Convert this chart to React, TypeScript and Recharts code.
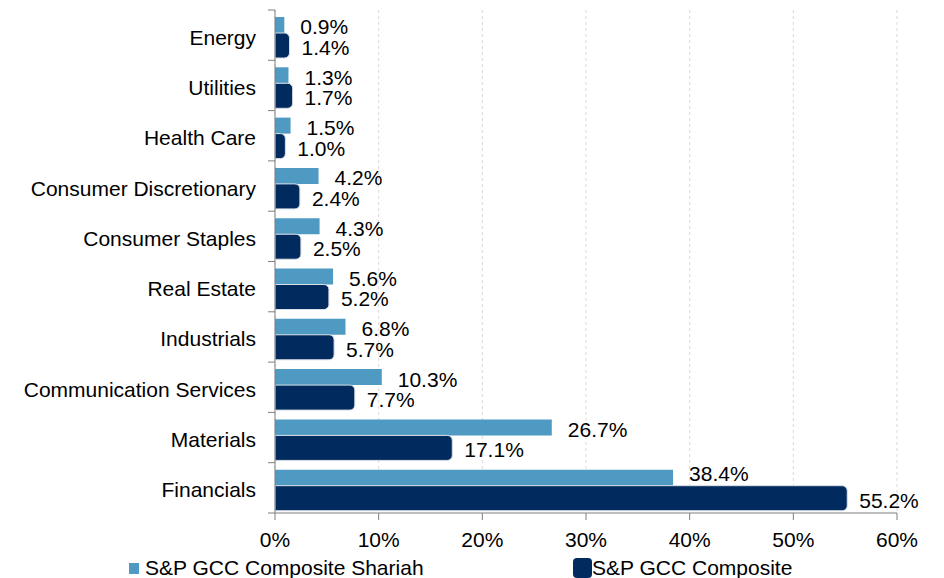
import React from 'react';
import { BarChart, Bar, XAxis, YAxis, CartesianGrid, LabelList } from 'recharts';

const categories = [
  'Energy',
  'Utilities',
  'Health Care',
  'Consumer Discretionary',
  'Consumer Staples',
  'Real Estate',
  'Industrials',
  'Communication Services',
  'Materials',
  'Financials',
];
const shariahValues = [0.9, 1.3, 1.5, 4.2, 4.3, 5.6, 6.8, 10.3, 26.7, 38.4];
const compositeValues = [1.4, 1.7, 1.0, 2.4, 2.5, 5.2, 5.7, 7.7, 17.1, 55.2];
const xTicks = [0, 10, 20, 30, 40, 50, 60];
const seriesNames = ['S&P GCC Composite Shariah', 'S&P GCC Composite'];

const LIGHT = '#4F9AC3';
const DARK = '#012B5E';
const AXIS = '#7f7f7f';
const FONT = '"Liberation Sans", Arial, sans-serif';

const W = 944;
const H = 578;
const M_TOP = 10;
const X_AXIS_H = 65;
const PLOT_H = H - M_TOP - X_AXIS_H;
const HALF_BAND = PLOT_H / categories.length / 2;

const data = categories.map((c, i) => ({
  name: c,
  shariah: shariahValues[i],
  composite: compositeValues[i],
}));

const CatTick = (props: any) => {
  const { x, y, payload, index } = props;
  const lx1 = x + 12;
  const lx2 = x + 19;
  return (
    <g>
      <text
        x={x}
        y={y + 2}
        dy="0.355em"
        textAnchor="end"
        fontSize={21}
        fontFamily={FONT}
        fill="#000"
      >
        {payload.value}
      </text>
      <line x1={lx1} x2={lx2} y1={y - HALF_BAND} y2={y - HALF_BAND} stroke={AXIS} strokeWidth={1} />
      {index === categories.length - 1 ? (
        <line x1={lx1} x2={lx2} y1={y + HALF_BAND} y2={y + HALF_BAND} stroke={AXIS} strokeWidth={1} />
      ) : null}
    </g>
  );
};

const makeLabel = (offset: number, lastShift: number) => (props: any) => {
  const { x, y, width, height, value, index } = props;
  const shift = index === categories.length - 1 ? lastShift : 0;
  return (
    <text
      x={x + width + offset}
      y={y + height / 2 + 2 + shift}
      dy="0.355em"
      textAnchor="start"
      fontSize={21}
      fontFamily={FONT}
      fill="#000"
    >
      {`${Number(value).toFixed(1)}%`}
    </text>
  );
};

export default function App() {
  return (
    <div style={{ position: 'absolute', left: 0, top: 0, width: W, height: H, background: '#fff' }}>
      <BarChart
        width={W}
        height={H}
        data={data}
        layout="vertical"
        margin={{ top: M_TOP, right: 47, left: 0, bottom: 0 }}
        barGap={0}
      >
        <CartesianGrid horizontal={false} vertical stroke="#d9d9d9" strokeDasharray="3 3" />
        <XAxis
          type="number"
          domain={[0, 60]}
          ticks={xTicks}
          interval={0}
          tickFormatter={(v: number) => `${v}%`}
          height={X_AXIS_H}
          tickSize={7}
          tickMargin={12}
          axisLine={{ stroke: AXIS }}
          tickLine={{ stroke: AXIS }}
          tick={{ fontSize: 21, fontFamily: FONT, fill: '#000' }}
        />
        <YAxis
          type="category"
          dataKey="name"
          width={275}
          interval={0}
          tickSize={7}
          tickMargin={12}
          tickLine={false}
          axisLine={{ stroke: AXIS }}
          tick={<CatTick />}
        />
        <Bar dataKey="spacer" barSize={5} fill="none" legendType="none" isAnimationActive={false} />
        <Bar dataKey="shariah" name={seriesNames[0]} fill={LIGHT} barSize={16} isAnimationActive={false}>
          <LabelList dataKey="shariah" content={makeLabel(16, -6)} />
        </Bar>
        <Bar
          dataKey="composite"
          name={seriesNames[1]}
          fill={DARK}
          barSize={25}
          radius={[0, 5, 5, 0]}
          stroke="#d9dfe6"
          strokeWidth={1}
          isAnimationActive={false}
        >
          <LabelList dataKey="composite" content={makeLabel(12, 0)} />
        </Bar>
      </BarChart>
      <div
        style={{
          position: 'absolute',
          left: 0,
          top: 554,
          width: W,
          height: 28,
          fontFamily: FONT,
          fontSize: 21,
          color: '#000',
        }}
      >
        <div style={{ position: 'absolute', left: 129, top: 0, height: 28, display: 'flex', alignItems: 'center', whiteSpace: 'nowrap' }}>
          <span style={{ display: 'inline-block', width: 10, height: 11, background: LIGHT, marginRight: 6 }} />
          <span>{seriesNames[0]}</span>
        </div>
        <div style={{ position: 'absolute', left: 573, top: 0, height: 28, display: 'flex', alignItems: 'center', whiteSpace: 'nowrap' }}>
          <span style={{ display: 'inline-block', width: 19, height: 20, background: DARK, borderRadius: 4, marginRight: 0 }} />
          <span>{seriesNames[1]}</span>
        </div>
      </div>
    </div>
  );
}
